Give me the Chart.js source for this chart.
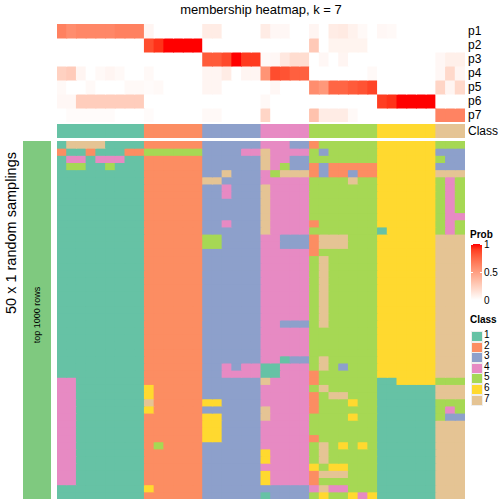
<!DOCTYPE html>
<html>
<head>
<meta charset="utf-8">
<script src="https://cdn.jsdelivr.net/npm/chart.js@4"></script>
<style>
  body { margin: 0; background: #fff; font-family: "Liberation Sans", Arial, sans-serif; }
  #wrap { position: relative; width: 504px; height: 504px; overflow: hidden; }
  canvas { position: absolute; }
  .txt { position: absolute; white-space: nowrap; color: #000; }
</style>
</head>
<body>
<div id="wrap">
  <div class="txt" id="title" style="left:0;width:522px;top:2px;text-align:center;font-size:13px;">membership heatmap, k = 7</div>
  <canvas id="probCanvas" width="408" height="98" style="left:57px;top:24px;"></canvas>
  <canvas id="classCanvas" width="408" height="14" style="left:57px;top:124px;"></canvas>
  <canvas id="mainCanvas" width="408" height="358" style="left:57px;top:141px;"></canvas>
  <div id="sideBar" style="position:absolute;left:23px;top:141px;width:28px;height:358px;background:#7fc97f;"></div>
  <div class="txt" style="left:37px;top:315px;font-size:9px;transform:translate(-50%,-50%) rotate(-90deg);">top 1000 rows</div>
  <div class="txt" style="left:11px;top:233px;font-size:14.5px;transform:translate(-50%,-50%) rotate(-90deg);">50 x 1 random samplings</div>
  <div id="rowLabels"></div>
  <div id="legend"></div>
</div>
<script>
// probability rows (42 samples)
const probNames = ['p1', 'p2', 'p3', 'p4', 'p5', 'p6', 'p7'];
const p1 = [0.64,0.58,0.61,0.61,0.61,0.61,0.64,0.64,0.64, 0.05,0,0,0,0,0, 0.1,0.1,0,0,0,0, 0.1,0.04,0.04,0,0, 0.05,0,0.1,0.11,0.07,0.03,0, 0.04,0.03,0,0,0,0, 0,0,0];
const p2 = [0,0,0,0,0,0,0,0,0, 0.85,0.93,1,1,1,1, 0,0,0,0,0,0, 0,0,0,0,0, 0.28,0,0.06,0.06,0.06,0.06,0, 0,0,0,0,0,0, 0,0,0];
const p3 = [0,0,0,0,0,0,0,0,0, 0,0,0,0,0,0, 0.8,0.8,0.86,1,0.91,0.91, 0.03,0.04,0.12,0.18,0.18, 0,0.04,0,0.05,0,0,0, 0,0,0,0,0,0, 0.04,0.08,0.08];
const p4 = [0.24,0.27,0.05,0,0.03,0.05,0.03,0,0, 0.03,0,0,0,0,0, 0.05,0.05,0.1,0,0.05,0.05, 0.55,0.85,0.83,0.78,0.78, 0,0,0,0,0,0,0.03, 0,0,0,0,0,0, 0.04,0.2,0.05];
const p5 = [0.03,0,0,0.03,0,0,0,0.03,0.03, 0.02,0.03,0,0,0,0, 0.05,0.05,0,0,0,0, 0,0.04,0,0,0, 0.58,0.53,0.76,0.76,0.8,0.83,0.88, 0,0,0,0,0,0, 0.22,0.05,0.2];
const p6 = [0.04,0.04,0.26,0.26,0.26,0.26,0.26,0.26,0.26, 0,0,0,0,0,0, 0,0,0,0,0,0, 0.03,0,0,0,0, 0,0,0,0,0,0,0, 0.9,0.93,1,1,1,1, 0,0,0];
const p7 = [0,0.02,0.02,0.02,0.02,0.02,0,0,0, 0.02,0,0,0,0,0, 0.03,0.03,0,0,0,0, 0.22,0,0,0,0, 0.32,0.1,0.1,0.1,0.03,0,0, 0,0,0,0,0,0, 0.63,0.63,0.63];
const probRows = [p1, p2, p3, p4, p5, p6, p7];

// consensus class of each sample
const sampleClass = [1,1,1,1,1,1,1,1,1, 2,2,2,2,2,2, 3,3,3,3,3,3, 4,4,4,4,4, 5,5,5,5,5,5,5, 6,6,6,6,6,6, 7,7,7];

// class of each sample in each of the 50 random samplings
const samplingRows = [
  "177771111 222222 333333 44433 2555555 666666 555",
  "211211122 555555 333344 74444 5355555 666666 333",
  "144144411 222222 333333 74433 5555555 666666 533",
  "155115111 222222 333333 74533 2322222 666666 333",
  "111111111 222222 337333 45777 2322322 666666 777",
  "111111111 222222 773333 44444 5555755 666666 545",
  "111111111 222222 334333 74444 5555555 666666 545",
  "111111111 222222 334333 74444 5555555 666666 545",
  "111111111 222222 333333 74444 5555555 666666 545",
  "111111111 222222 333333 74444 5555555 666666 545",
  "111111111 222222 333333 74444 5555555 666666 544",
  "111111111 222222 334333 74444 2555555 666666 545",
  "111111111 222222 333333 74444 5555555 166666 545",
  "111111111 222222 553333 44333 2777555 666666 777",
  "111111111 222222 553333 44333 2777555 666666 777",
  "111111111 222222 333333 44444 2555555 666666 777",
  "111111111 222222 333333 44444 5755555 666666 777",
  "111111111 222222 333333 44444 5755555 666666 777",
  "111111111 222222 333333 44444 5755555 666666 777",
  "111111111 222222 333333 44444 5755555 666666 777",
  "111111111 222222 333333 44444 5755555 666666 777",
  "111111111 222222 333333 44444 5755555 666666 777",
  "111111111 222222 333333 44444 5755555 666666 777",
  "111111111 222222 333333 44444 5755555 666666 777",
  "111111111 222222 333333 44444 5755555 666666 777",
  "111111111 222222 333333 44333 5755555 666666 777",
  "111111111 222222 333333 44444 5555555 666666 777",
  "111111111 222222 333333 44444 5555555 666666 777",
  "111111111 222222 333333 44444 5555555 666666 777",
  "111111111 222222 333333 44444 5555555 666666 777",
  "111111111 222222 333333 44133 5755555 666666 777",
  "111111111 222222 334344 11444 5753555 666666 777",
  "111111111 222222 334444 11444 2555555 666666 777",
  "441111111 222222 333333 74444 2555555 116666 555",
  "441111111 622222 333333 44444 5755555 111111 777",
  "441111111 622222 333333 44444 2577555 111111 777",
  "441111111 722222 663333 44444 2555655 111111 555",
  "441111111 622222 333333 74444 2555555 111111 545",
  "441111111 222222 663333 74444 5555655 111111 533",
  "441111111 222222 663333 44444 5555555 111111 777",
  "441111111 222222 663333 44444 5555555 111111 777",
  "441111111 222222 663333 44444 2555555 111111 777",
  "441111111 252222 333333 44444 5756565 111111 777",
  "441111111 222222 333333 64444 5755555 111111 777",
  "441111111 222222 333333 64444 5755555 111111 777",
  "441111111 222222 333333 44444 6566555 111111 777",
  "441111111 222222 333333 64444 2777555 111111 777",
  "441111111 222222 333333 64444 2555555 111111 777",
  "111111111 622222 333333 33333 4744555 111111 777",
  "111111111 222222 333333 13333 5655646 111111 777"
];

const classNames = ['1', '2', '3', '4', '5', '6', '7'];
const classColors = { 1: '#66c2a5', 2: '#fc8d62', 3: '#8da0cb', 4: '#e78ac3', 5: '#a6d854', 6: '#ffd92f', 7: '#e5c494' };
const probTicks = ['1', '0.5', '0'];

// white -> red, interpolated in LAB like colorRamp2
function probColor(p) {
    const L = 100 + (53.24 - 100) * p, A = 80.09 * p, B = 67.2 * p;
    const fy = (L + 16) / 116, fx = fy + A / 500, fz = fy - B / 200;
    const f = t => t > 0.206897 ? t * t * t : (t - 16 / 116) / 7.787;
    const X = 0.95047 * f(fx), Y = f(fy), Z = 1.08883 * f(fz);
    const r = 3.2406 * X - 1.5372 * Y - 0.4986 * Z;
    const g = -0.9689 * X + 1.8758 * Y + 0.0415 * Z;
    const b = 0.0557 * X - 0.2040 * Y + 1.0570 * Z;
    const gam = c => {
        c = Math.min(1, Math.max(0, c));
        return Math.round(255 * (c > 0.0031308 ? 1.055 * Math.pow(c, 1 / 2.4) - 0.055 : 12.92 * c));
    };
    return `rgb(${gam(r)},${gam(g)},${gam(b)})`;
}

const sampleIds = sampleClass.map((c, i) => 's' + (i + 1));

function tileChart(id, rows, colorOf) {
    return new Chart(document.getElementById(id), {
        type: 'bar',
        data: {
            labels: sampleIds,
            datasets: rows.map((row, r) => ({
                data: row.map(() => [r, r + 1]),
                backgroundColor: row.map(colorOf),
                grouped: false,
                categoryPercentage: 1,
                barPercentage: 1,
                borderWidth: 0,
                inflateAmount: 0.5
            }))
        },
        options: {
            responsive: false,
            animation: false,
            layout: { padding: 0 },
            plugins: { legend: { display: false }, tooltip: { enabled: false } },
            scales: {
                x: { display: false },
                y: { display: false, min: 0, max: rows.length, reverse: true }
            }
        }
    });
}

tileChart('probCanvas', probRows, probColor);
tileChart('classCanvas', [sampleClass], c => classColors[c]);
tileChart('mainCanvas', samplingRows.map(s => s.replace(/ /g, '').split('').map(Number)), c => classColors[c]);

// row labels on the right
let html = '';
probNames.concat(['Class']).forEach((name, i) => {
    html += `<div class="txt" style="left:468px;top:${24 + i * 14 + (i === 7 ? 2 : 0)}px;line-height:14px;font-size:12px;">${name}</div>`;
});
document.getElementById('rowLabels').innerHTML = html;

// legends
let stops = [];
for (let k = 0; k <= 10; k++) stops.push(probColor(1 - k / 10) + ' ' + (k * 10) + '%');
let lg = '';
lg += '<div class="txt" style="left:470px;top:229px;font-size:10px;font-weight:bold;">Prob</div>';
lg += `<div style="position:absolute;left:471px;top:244px;width:11px;height:56px;background:linear-gradient(to bottom, ${stops.join(',')});"></div>`;
lg += '<div style="position:absolute;left:471px;top:244px;width:2px;height:1px;background:#fff"></div><div style="position:absolute;left:480px;top:244px;width:2px;height:1px;background:#fff"></div>';
lg += '<div style="position:absolute;left:471px;top:272px;width:2px;height:1px;background:#fff"></div><div style="position:absolute;left:480px;top:272px;width:2px;height:1px;background:#fff"></div>';
probTicks.forEach((t, i) => {
    lg += `<div class="txt" style="left:484px;top:${239 + i * 28}px;font-size:10px;">${t}</div>`;
});
lg += '<div class="txt" style="left:470px;top:314px;font-size:10px;font-weight:bold;">Class</div>';
classNames.forEach((n, i) => {
    const y = 331 + i * 10.6;
    lg += `<div style="position:absolute;left:471px;top:${y}px;width:10px;height:9px;background:${classColors[i + 1]};border:0.5px solid #eee;"></div>`;
    lg += `<div class="txt" style="left:484px;top:${y - 2}px;font-size:10px;">${n}</div>`;
});
document.getElementById('legend').innerHTML = lg;
</script>
</body>
</html>
